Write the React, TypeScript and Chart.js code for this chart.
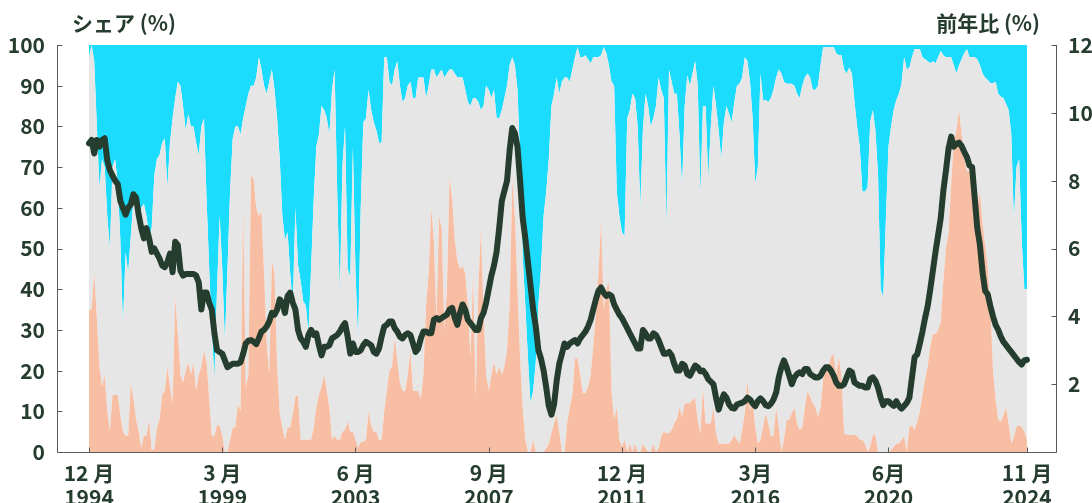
import React, { useEffect, useRef } from 'react';
import { Chart, registerables } from 'chart.js';

Chart.register(...registerables);

// Monthly observations, Dec 1994 (index 0) .. Nov 2024 (index 359)
// Share of the lowest (salmon) layer, %
const shareLow: number[] = [
  35, 35, 44, 33, 21, 16, 19, 10, 5, 14,
  14, 14, 9, 5, 4, 4, 17, 13, 8, 5,
  1, 4, 4, 8, 0.5, 0.5, 6, 8, 14, 15,
  21, 16, 12, 38, 29, 19, 17, 20, 22, 19,
  22, 15, 19, 21, 25, 22, 13, 4, 4, 6.6,
  6.6, 4, 0, 0, 3, 6, 6, 12, 10, 61,
  16, 19, 68, 67, 60, 58, 59, 44, 27, 19,
  47, 44, 21, 9.5, 6, 3, 6, 6, 9.5, 13.6,
  14, 3, 3, 3, 3, 3, 6, 11, 14, 16,
  19, 15, 11, 3, 4, 3, 3, 5, 5.5, 7.5,
  5, 5, 3, 1, 2.5, 2.5, 3, 10, 6.5, 5,
  5, 3, 3, 10, 15, 20, 21, 28, 22.5, 17,
  15, 15, 19, 25, 15, 15, 15, 13, 19, 36,
  44, 60, 52, 32, 58, 55, 30, 40, 68, 62,
  52, 47, 45, 45.6, 44, 36, 23, 44, 13, 40,
  55, 35, 19, 15, 19, 22, 19, 21, 19, 21,
  25, 36, 67, 58, 40, 23, 11, 3, 0, 0,
  3, 0, 0, 0, 0, 1, 2, 4.6, 7, 9,
  5, 0, 0, 7, 11, 14, 23, 23, 19, 14.5,
  14.5, 16, 19, 26, 34, 44, 57, 35, 40, 42,
  15, 8, 11, 3, 1.3, 3, 0, 2, 0, 2,
  0, 0, 2, 1, 0, 0, 2, 0, 1, 3.8,
  5, 4.6, 4.6, 5.4, 7, 8, 11, 8.7, 12, 12,
  12, 12.8, 13.2, 7.8, 4.6, 16, 7, 7, 7, 11,
  4.6, 2, 2, 2, 2, 2, 3, 4.2, 3, 2,
  5.4, 9.5, 17.7, 10, 12.8, 6.2, 2, 3, 6.2, 9.5,
  7, 3.8, 4, 11, 6, 0, 3, 7.8, 8, 9.5,
  10.8, 7, 5.4, 6, 11, 15, 13.6, 12, 11, 8.7,
  11, 18, 21, 21, 23.4, 24, 19, 23.4, 18.5, 4.6,
  4.2, 4.2, 4.2, 4.2, 4, 3, 3, 2, 0, 1.3,
  4.2, 4.2, 0, 0, 0, 0, 0, 0.5, 1.3, 2,
  2, 3, 3.8, 0, 6.2, 6.6, 5.4, 7.5, 10, 14,
  18, 21, 26, 29, 29, 30, 32, 42, 50, 54,
  66, 76, 79, 84, 78, 72, 69, 69, 68.4, 64,
  60, 64, 56, 51, 45, 36, 20, 13, 8, 7.5,
  9, 11, 7, 2, 3.8, 6.2, 6.6, 6.2, 5, 3,
];

// Cumulative share of the lowest two layers (top edge of the grey layer), %
const shareLowMidTop: number[] = [
  97, 100, 96, 80, 65, 72, 70, 58, 50, 70,
  72, 66, 52, 31, 49, 44, 53, 62, 60, 55,
  60, 61, 58, 53, 55, 68, 72, 73, 76, 77,
  65, 76, 82, 87, 91, 90, 85, 79, 83, 80,
  80, 76, 73, 80, 82, 62, 45, 30, 18, 40,
  58, 45, 27, 45, 64, 77, 80, 80, 78, 82,
  85, 88, 90, 90, 92, 97, 94, 90, 88, 91,
  94, 89, 82, 72, 58, 52, 54, 44, 36, 60,
  46, 42, 37, 36, 29, 45, 62, 75, 78, 85,
  84, 82, 78, 89, 94, 64, 39, 70, 80, 45,
  43, 75, 44, 27, 60, 81, 82, 89, 84, 81,
  79, 76, 76, 97, 97, 91, 90, 94, 96, 90,
  86, 87, 90, 91, 87, 87, 92, 92, 92, 87,
  90, 94, 94, 92, 93, 94, 92, 93, 94, 94,
  93, 92, 92, 92, 89, 86, 85, 87, 87, 86,
  84, 85, 90, 89, 87, 89, 82, 82, 84, 87,
  90, 95, 97, 95, 89, 72, 48, 36, 23, 12,
  15, 22, 36, 45, 58, 64, 72, 85, 88, 92,
  88, 91, 92, 92, 91, 94, 97, 99.5, 97, 97,
  97.5, 96.5, 95.5, 97, 97, 97, 97.5, 99.5, 98, 95,
  91, 90, 64, 58, 54, 53, 82, 84, 88, 87,
  80, 60, 79, 88, 85, 80, 82, 85, 92, 89,
  87, 55, 94, 91, 88, 88, 78, 65, 85, 92.5,
  90, 93, 96, 90, 63, 85, 85, 67, 80, 90,
  85, 79, 72, 81, 85, 83, 81, 86, 90, 90.5,
  92, 97, 96, 91, 82, 66, 70, 93, 86.5, 86.5,
  86, 87, 89, 92, 94, 93, 91, 90.5, 90.5, 90.5,
  90, 88, 87, 90, 92, 93, 92, 89, 89, 90,
  95, 99.5, 99.5, 99.5, 99.5, 99.5, 98, 97.5, 97.5, 94,
  93, 94.5, 93, 86, 80, 75, 64, 64, 65, 81,
  84, 79, 68, 40, 38, 57, 75, 80, 84, 86.5,
  88, 90.5, 97, 94, 94.5, 97, 99, 99, 99, 97,
  96.5, 96, 95.5, 96, 95.5, 97, 98.5, 97.5, 97, 97,
  97, 95, 93, 95, 96.5, 98, 99, 97, 97, 97,
  96.5, 95, 93, 92, 91.4, 90.6, 90.6, 91, 88, 87.3,
  87, 85.5, 84, 78, 57, 70, 72, 52, 40, 40,
];

// Year-on-year change, % (right axis)
const yoyChange: number[] = [
  9.1, 9.2, 8.8, 9.2, 9.0, 9.2, 9.25, 8.6, 8.3, 8.15,
  8.0, 7.9, 7.4, 7.2, 7.0, 7.2, 7.3, 7.6, 7.5, 7.0,
  6.6, 6.3, 6.6, 6.3, 5.9, 6.0, 5.85, 5.7, 5.5, 5.45,
  5.6, 5.85, 5.3, 6.2, 6.1, 5.35, 5.2, 5.25, 5.25, 5.25,
  5.25, 5.2, 5.0, 4.2, 4.7, 4.7, 4.4, 4.2, 3.5, 3.0,
  2.95, 2.9, 2.7, 2.5, 2.55, 2.6, 2.6, 2.6, 2.65, 2.9,
  3.2, 3.28, 3.3, 3.25, 3.18, 3.35, 3.55, 3.6, 3.7, 3.85,
  4.1, 4.05, 4.2, 4.5, 4.4, 4.1, 4.6, 4.7, 4.4, 4.2,
  3.6, 3.35, 3.25, 3.1, 3.45, 3.6, 3.45, 3.5, 3.15, 2.85,
  3.1, 3.1, 3.15, 3.35, 3.4, 3.45, 3.55, 3.7, 3.8, 3.4,
  2.9, 3.2, 2.95, 2.95, 3.0, 3.15, 3.25, 3.2, 3.15, 2.95,
  2.9, 3.05, 3.4, 3.7, 3.75, 3.85, 3.85, 3.65, 3.55, 3.4,
  3.35, 3.45, 3.5, 3.45, 3.2, 2.95, 3.05, 3.35, 3.55, 3.55,
  3.5, 3.5, 3.9, 3.95, 3.9, 3.95, 4.0, 4.05, 4.2, 4.25,
  3.95, 3.75, 4.1, 4.35, 4.2, 3.9, 3.8, 3.7, 3.6, 3.6,
  3.95, 4.1, 4.4, 4.8, 5.2, 5.5, 5.9, 6.6, 7.4, 7.7,
  8.0, 8.9, 9.55, 9.4, 9.0, 8.0, 6.9, 6.3, 5.6, 4.9,
  4.2, 3.7, 3.0, 2.75, 2.4, 1.9, 1.35, 1.1, 1.4, 2.1,
  2.6, 2.9, 3.2, 3.1, 3.2, 3.25, 3.3, 3.2, 3.35, 3.45,
  3.55, 3.7, 3.9, 4.2, 4.5, 4.75, 4.85, 4.7, 4.6, 4.65,
  4.6, 4.35, 4.2, 4.05, 3.95, 3.8, 3.65, 3.5, 3.35, 3.2,
  3.05, 3.05, 3.6, 3.5, 3.35, 3.35, 3.5, 3.45, 3.3, 3.1,
  2.9, 2.9, 2.95, 2.85, 2.6, 2.4, 2.4, 2.6, 2.55, 2.3,
  2.25, 2.4, 2.55, 2.5, 2.38, 2.4, 2.3, 2.15, 2.07, 2.0,
  1.6, 1.25, 1.5, 1.7, 1.6, 1.4, 1.3, 1.28, 1.4, 1.43,
  1.45, 1.5, 1.6, 1.55, 1.43, 1.35, 1.5, 1.58, 1.5, 1.38,
  1.35, 1.42, 1.55, 1.75, 2.2, 2.5, 2.7, 2.5, 2.25, 2.0,
  2.2, 2.3, 2.35, 2.3, 2.45, 2.45, 2.3, 2.25, 2.2, 2.2,
  2.25, 2.4, 2.5, 2.5, 2.4, 2.25, 2.05, 1.95, 1.95, 2.0,
  2.2, 2.4, 2.35, 2.05, 2.0, 1.95, 1.95, 1.9, 1.9, 2.15,
  2.2, 2.1, 1.9, 1.6, 1.38, 1.5, 1.5, 1.42, 1.36, 1.5,
  1.36, 1.28, 1.36, 1.45, 1.6, 2.2, 2.8, 2.88, 3.2, 3.55,
  3.95, 4.3, 4.8, 5.35, 5.9, 6.4, 6.9, 7.7, 8.3, 8.95,
  9.3, 9.0, 9.08, 9.12, 9.02, 8.85, 8.7, 8.45, 8.4, 7.5,
  6.6, 6.1, 5.3, 4.75, 4.65, 4.3, 4.0, 3.75, 3.6, 3.4,
  3.25, 3.15, 3.05, 2.95, 2.85, 2.75, 2.65, 2.58, 2.7, 2.72,
];

// X-axis tick positions (month index) and labels
const tickIndex: number[] = [0, 51, 102, 153, 204, 255, 306, 359];
const tickMonth: string[] = ['12 月', '3 月', '6 月', '9 月', '12 月', '3月', '6月', '11 月'];
const tickYear: string[] = ['1994', '1999', '2003', '2007', '2011', '2016', '2020', '2024'];

const leftTitle = 'シェア (%)';
const rightTitle = '前年比 (%)';

const TEXT = '#263C2F';
const LINE = '#243D2E';
const CYAN = '#1BDCFD';
const GREY = '#E6E6E6';
const SALMON = '#F8BEA4';
const AXIS = '#5A5A5A';
const FONT = '"Noto Sans CJK JP", "Noto Sans", sans-serif';

export default function App() {
  const ref = useRef<HTMLCanvasElement>(null);

  useEffect(() => {
    document.body.style.margin = '0';
    const canvas = ref.current;
    if (!canvas) return;

    const pts = (arr: number[]) => arr.map((v, i) => ({ x: i, y: v }));
    const shareMid = shareLowMidTop.map((v, i) => v - shareLow[i]);
    const shareHigh = shareLowMidTop.map((v) => 100 - v);

    const deco = {
      id: 'deco',
      afterDraw(chart: any) {
        const { ctx, chartArea: a, scales } = chart;
        ctx.save();
        ctx.strokeStyle = AXIS;
        ctx.lineWidth = 1;
        ctx.beginPath();
        const L = Math.round(a.left) + 0.5;
        const R = Math.round(a.right) - 0.5;
        const B = Math.round(a.bottom) + 0.5;
        const T = Math.round(a.top);
        ctx.moveTo(L, T);
        ctx.lineTo(L, B);
        ctx.lineTo(R, B);
        ctx.lineTo(R, T);
        scales.y.ticks.forEach((t: any) => {
          const y = Math.round(scales.y.getPixelForValue(t.value)) + 0.5;
          ctx.moveTo(L, y);
          ctx.lineTo(L + 5, y);
        });
        scales.y1.ticks.forEach((t: any) => {
          const y = Math.round(scales.y1.getPixelForValue(t.value)) + 0.5;
          ctx.moveTo(R, y);
          ctx.lineTo(R - 5, y);
        });
        tickIndex.forEach((v) => {
          const x = Math.round(scales.x.getPixelForValue(v)) + 0.5;
          ctx.moveTo(x, B);
          ctx.lineTo(x, B - 5);
        });
        ctx.stroke();
        ctx.fillStyle = TEXT;
        ctx.font = `bold 21px ${FONT}`;
        ctx.textBaseline = 'middle';
        ctx.textAlign = 'left';
        ctx.fillText(leftTitle, 72, 23);
        ctx.textAlign = 'right';
        ctx.fillText(rightTitle, 1040, 23);
        ctx.restore();
      },
    };

    const tickFont = { family: FONT, size: 21, weight: 'bold' as const, lineHeight: 1.15 };

    const chart = new Chart(canvas, {
      type: 'line',
      data: {
        datasets: [
          {
            data: pts(shareLow),
            yAxisID: 'y',
            backgroundColor: SALMON,
            borderWidth: 0,
            pointRadius: 0,
            fill: 'origin',
            order: 1,
          },
          {
            data: pts(shareMid),
            yAxisID: 'y',
            backgroundColor: GREY,
            borderWidth: 0,
            pointRadius: 0,
            fill: '-1',
            order: 1,
          },
          {
            data: pts(shareHigh),
            yAxisID: 'y',
            backgroundColor: CYAN,
            borderWidth: 0,
            pointRadius: 0,
            fill: '-1',
            order: 1,
          },
          {
            data: pts(yoyChange),
            yAxisID: 'y1',
            borderColor: LINE,
            borderWidth: 6,
            pointRadius: 0,
            fill: false,
            tension: 0,
            borderJoinStyle: 'round',
            borderCapStyle: 'round',
            order: 0,
          },
        ] as any,
      },
      options: {
        responsive: false,
        maintainAspectRatio: false,
        animation: false,
        events: [],
        layout: { padding: { top: 45, left: 0, right: 0, bottom: 0 } },
        plugins: {
          legend: { display: false },
          tooltip: { enabled: false },
        },
        scales: {
          x: {
            type: 'linear',
            min: -12.25,
            max: 370.5,
            grid: { display: false, drawTicks: false },
            border: { display: false },
            afterBuildTicks: (s: any) => {
              s.ticks = tickIndex.map((v) => ({ value: v }));
            },
            afterFit: (s: any) => {
              s.height = 51;
            },
            ticks: {
              autoSkip: false,
              maxRotation: 0,
              padding: 9,
              color: TEXT,
              font: tickFont,
              callback: (v: any) => {
                const k = tickIndex.indexOf(Number(v));
                return k >= 0 ? [tickMonth[k], tickYear[k]] : '';
              },
            },
          },
          y: {
            type: 'linear',
            position: 'left',
            stacked: true,
            min: 0,
            max: 100,
            grid: { display: false, drawTicks: false },
            border: { display: false },
            afterFit: (s: any) => {
              s.width = 57;
            },
            ticks: { stepSize: 10, padding: 12, color: TEXT, font: tickFont },
          },
          y1: {
            type: 'linear',
            position: 'right',
            min: 0,
            max: 12,
            grid: { display: false, drawTicks: false },
            border: { display: false },
            afterFit: (s: any) => {
              s.width = 35;
            },
            ticks: {
              stepSize: 2,
              padding: 11,
              color: TEXT,
              font: tickFont,
              callback: (v: any) => (Number(v) === 0 ? '' : String(v)),
            },
          },
        },
      } as any,
      plugins: [deco],
    });

    return () => chart.destroy();
  }, []);

  return (
    <div style={{ width: 1092, height: 503, position: 'relative' }}>
      <canvas ref={ref} width={1092} height={503} style={{ display: 'block' }} />
    </div>
  );
}
